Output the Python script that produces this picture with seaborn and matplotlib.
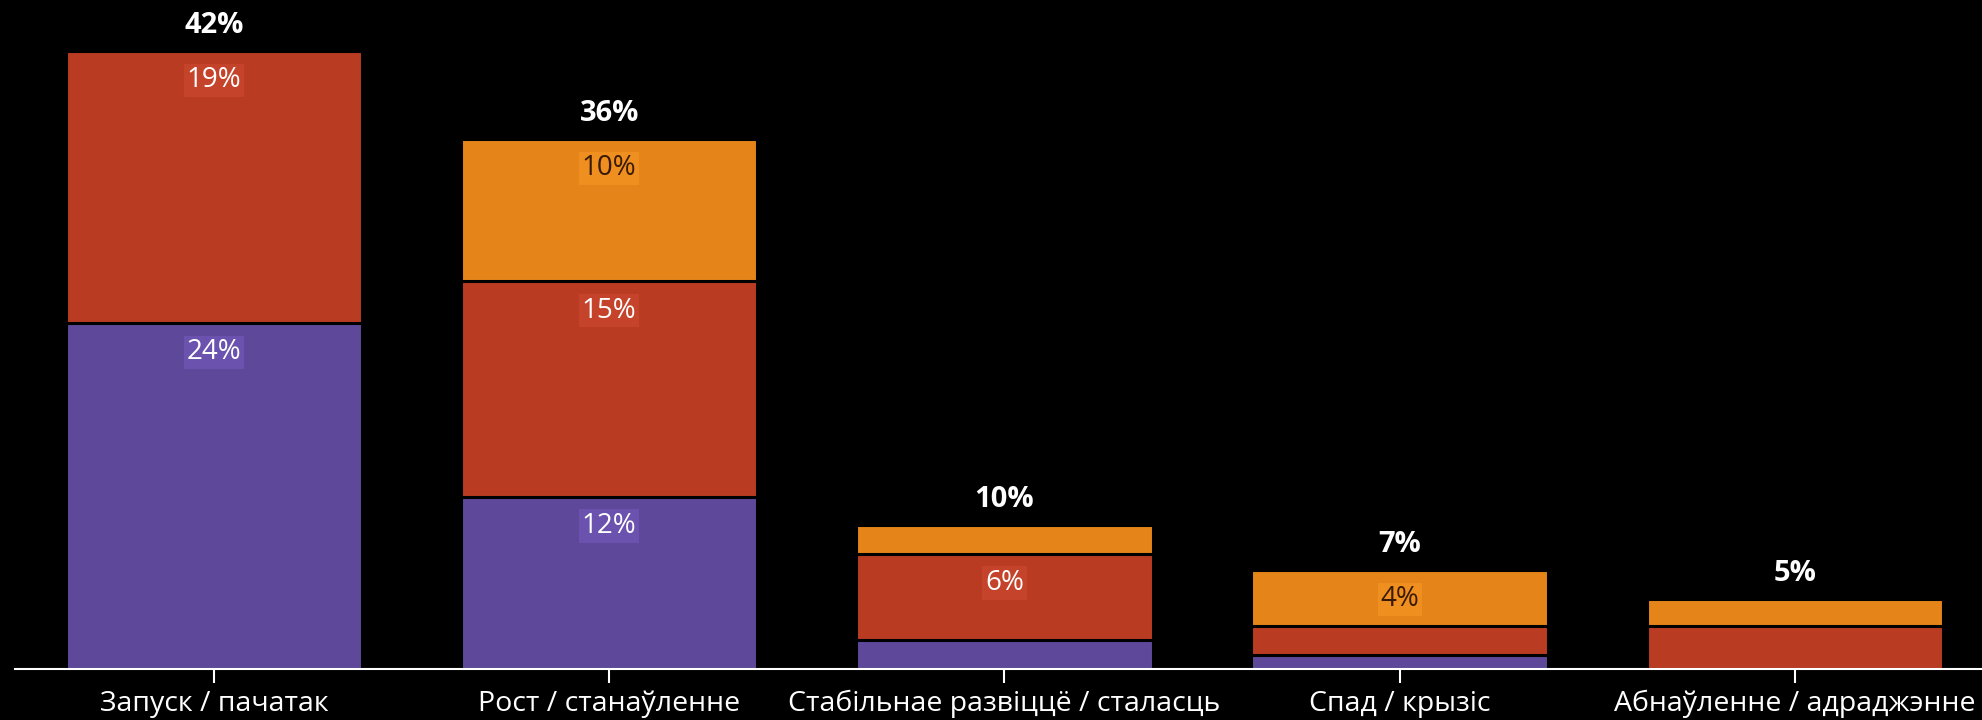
import matplotlib
matplotlib.use("Agg")
import matplotlib.pyplot as plt
import seaborn as sns
import numpy as np
import pandas as pd

stages = ["Запуск / пачатак", "Рост / станаўленне", "Стабільнае развіццё / сталасць",
          "Спад / крызіс", "Абнаўленне / адраджэнне"]
purple_vals = [23.6, 11.75, 1.95, 0.95, 0.0]
red_vals = [18.55, 14.7, 5.9, 2.0, 2.9]
orange_vals = [0.0, 9.7, 1.95, 3.8, 1.9]

PURPLE = "#5E489A"
RED = "#B93B22"
ORANGE = "#E58419"
PURPLE_BOX = "#6A52AE"
RED_BOX = "#C4432A"
ORANGE_BOX = "#EE8F1F"

sns.set_theme(style="dark")
plt.rcParams["font.family"] = ["Open Sans", "Noto Sans", "DejaVu Sans"]

df = pd.DataFrame({"stage": stages, "purple": purple_vals, "red": red_vals, "orange": orange_vals})
df["c1"] = df["purple"]
df["c2"] = df["purple"] + df["red"]
df["c3"] = df["c2"] + df["orange"]

fig = plt.figure(figsize=(19.82, 7.2), dpi=100, facecolor="black")
ax = fig.add_axes([15 / 1982, 51 / 720, 1 - 15 / 1982, 669 / 720])
ax.set_facecolor("black")

for col, color in [("c3", ORANGE), ("c2", RED), ("c1", PURPLE)]:
    sns.barplot(data=df, x="stage", y=col, color=color, width=0.75, order=stages,
                edgecolor="black", linewidth=2.2, ax=ax, saturation=1)

ax.set_xlim(-0.503, 4.473)
ax.set_ylim(0, 45.64)
ax.set_xlabel("")
ax.set_ylabel("")
ax.set_yticks([])
ax.grid(False)
for s in ["top", "right", "left"]:
    ax.spines[s].set_visible(False)
ax.spines["bottom"].set_color("white")
ax.spines["bottom"].set_linewidth(1.5)
ax.tick_params(axis="x", colors="white", length=10, width=1.5, pad=5, labelsize=20.5,
               direction="out", bottom=True)
for lab in ax.get_xticklabels():
    lab.set_color("white")


def pct(v):
    return f"{int(np.floor(v + 0.5))}%"


# segment labels
for i in range(len(stages)):
    segs = [(0, purple_vals[i], PURPLE_BOX, "white"),
            (purple_vals[i], red_vals[i], RED_BOX, "white"),
            (purple_vals[i] + red_vals[i], orange_vals[i], ORANGE_BOX, "#3A1A05")]
    for base, val, box, tc in segs:
        if val >= 3.5:
            top = base + val
            ax.annotate(pct(val), xy=(i, top), xytext=(0, -11),
                        textcoords="offset points", ha="center", va="top",
                        fontsize=20, color=tc,
                        bbox=dict(boxstyle="square,pad=0.1", facecolor=box, edgecolor="none"))
    total = purple_vals[i] + red_vals[i] + orange_vals[i]
    ax.annotate(pct(total), xy=(i, total), xytext=(0, 8),
                textcoords="offset points", ha="center", va="bottom",
                fontsize=21, fontweight="bold", color="white")

fig.savefig("out.png", dpi=100, facecolor="black")
